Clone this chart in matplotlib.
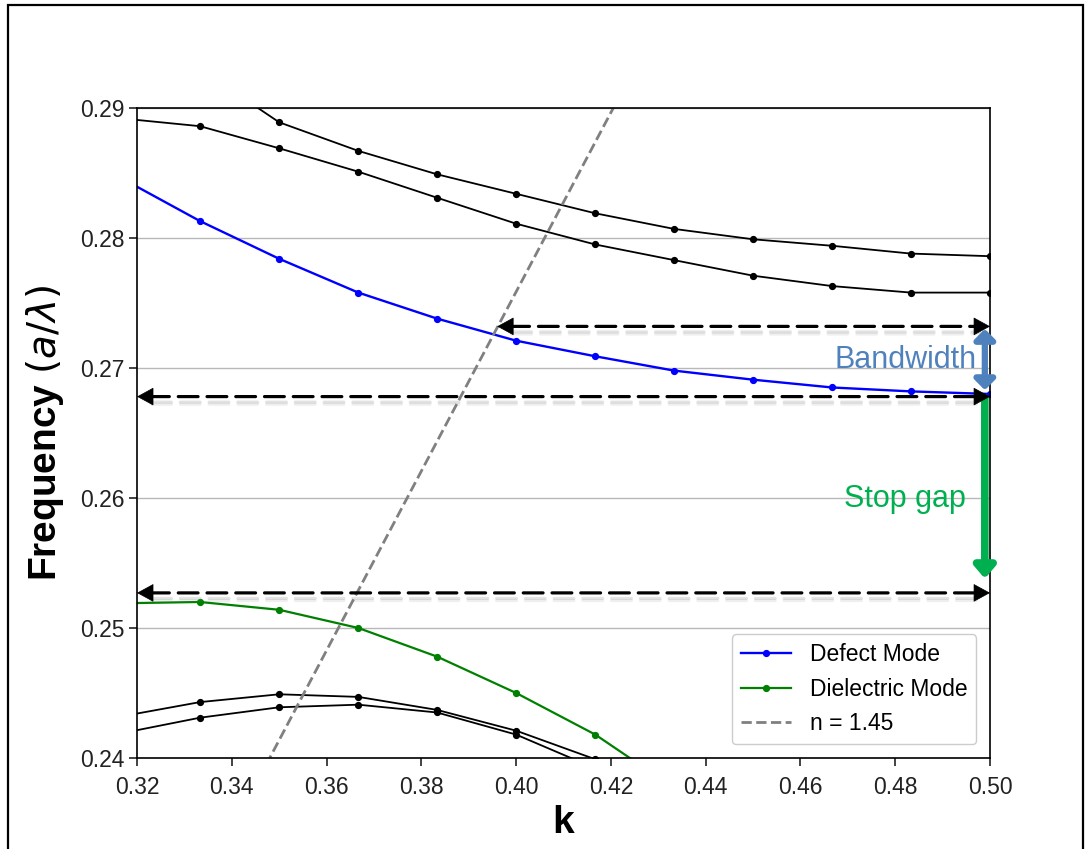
import numpy as np
import matplotlib
matplotlib.use("Agg")
import matplotlib.pyplot as plt
import matplotlib.patheffects as pe
from matplotlib.patches import Rectangle

plt.rcParams['font.family'] = ['Liberation Sans', 'DejaVu Sans']

# wave vector samples (k in units of 2pi/a)
k = [0.3167, 0.3333, 0.3500, 0.3667, 0.3833, 0.4000, 0.4167,
     0.4333, 0.4500, 0.4667, 0.4833, 0.5000]

# bands (a/lambda)
defect = [0.2846, 0.2813, 0.2784, 0.2758, 0.2738, 0.2721, 0.2709,
          0.2698, 0.2691, 0.2685, 0.2682, 0.2680]
band_a = [0.2965, 0.2930, 0.2889, 0.2867, 0.2849, 0.2834, 0.2819,
          0.2807, 0.2799, 0.2794, 0.2788, 0.2786]
band_b = [0.2892, 0.2886, 0.2869, 0.2851, 0.2831, 0.2811, 0.2795,
          0.2783, 0.2771, 0.2763, 0.2758, 0.2758]
dielectric = [0.2519, 0.2520, 0.2514, 0.2500, 0.2478, 0.2450, 0.2418, 0.2377]
band_c = [0.2432, 0.2443, 0.2449, 0.2447, 0.2437, 0.2421, 0.2399, 0.2372]
band_d = [0.2419, 0.2431, 0.2439, 0.2441, 0.2435, 0.2418, 0.2392, 0.2362]

# light line
n_clad = 1.45
k_light = np.array([0.34, 0.43])

# annotation levels
band_top = 0.2732      # top of bandwidth
gap_top = 0.2678       # defect mode at k = 0.5
gap_bottom = 0.2527    # top of dielectric band
band_left_k = 0.396

xticks = [0.32, 0.34, 0.36, 0.38, 0.40, 0.42, 0.44, 0.46, 0.48, 0.50]
yticks = [0.24, 0.25, 0.26, 0.27, 0.28, 0.29]

fig = plt.figure(figsize=(10.9, 8.49), dpi=100)
ax = fig.add_axes([0.1257, 0.1072, 0.7826, 0.7656])

ax.grid(axis='y', color='#b8b8b8', lw=1.0, zorder=0)

mk = dict(marker='o', ms=4.2, lw=1.3)
ax.plot(k, band_a, color='k', **mk)
ax.plot(k, band_b, color='k', **mk)
ax.plot(k[:len(band_c)], band_c, color='k', **mk)
ax.plot(k[:len(band_d)], band_d, color='k', **mk)
ax.plot(k, defect, color='blue', marker='o', ms=4.2, lw=1.7, label='Defect Mode')
ax.plot(k[:len(dielectric)], dielectric, color='green', marker='o', ms=4.2, lw=1.6,
        label='Dielectric Mode')
ax.plot(k_light, k_light / n_clad, '--', color='gray', lw=2, label='n = 1.45')

ax.set_xlim(0.32, 0.50)
ax.set_ylim(0.24, 0.29)
ax.set_xticks(xticks)
ax.set_yticks(yticks)
ax.set_xticklabels(['%.2f' % v for v in xticks])
ax.set_yticklabels(['%.2f' % v for v in yticks])
ax.tick_params(labelsize=16.5, length=6, width=1.2, colors='#222222')
ax.tick_params(axis='x', pad=7)
ax.tick_params(axis='y', pad=3)
for s in ax.spines.values():
    s.set_linewidth(1.2)

ax.set_xlabel('k', fontsize=28, fontweight='bold', labelpad=4)
ax.set_ylabel(r'Frequency $(a/\lambda)$', fontsize=28, fontweight='bold', labelpad=10)

ax.legend(loc='lower right', fontsize=16.5, handlelength=2.2, borderaxespad=0.6,
          framealpha=1, edgecolor='#cccccc')

# dashed horizontal arrows with a soft shadow
shadow = [pe.SimpleLineShadow(offset=(1.5, -4), shadow_color='gray', alpha=0.22),
          pe.SimpleLineShadow(offset=(1.5, -5.5), shadow_color='gray', alpha=0.12),
          pe.Normal()]
for y0, x0 in [(band_top, band_left_k), (gap_top, 0.32), (gap_bottom, 0.32)]:
    ax.annotate('', xy=(0.50, y0), xytext=(x0, y0),
                arrowprops=dict(arrowstyle='-', lw=2.3, color='k',
                                linestyle=(0, (6.2, 2.8)), shrinkA=9, shrinkB=9,
                                path_effects=shadow),
                annotation_clip=False, zorder=6)
    for xa, xb in [(x0 + 0.003, x0), (0.50 - 0.003, 0.50)]:
        ax.annotate('', xy=(xb, y0), xytext=(xa, y0),
                    arrowprops=dict(arrowstyle='-|>,head_length=0.55,head_width=0.3',
                                    lw=0.5, color='k', shrinkA=0, shrinkB=0,
                                    mutation_scale=20),
                    annotation_clip=False, zorder=7)

# bandwidth and stop gap markers
xm = 0.4989
ax.annotate('', xy=(xm, band_top - 0.0002), xytext=(xm, gap_top + 0.0005),
            arrowprops=dict(arrowstyle='<|-|>,head_length=0.3,head_width=0.3',
                            lw=4.5, color='#4F81BD', shrinkA=0, shrinkB=0,
                            mutation_scale=20),
            annotation_clip=False, zorder=5)
ax.annotate('', xy=(xm, gap_bottom + 0.0011), xytext=(xm, gap_top - 0.0001),
            arrowprops=dict(arrowstyle='-|>,head_length=0.35,head_width=0.3',
                            lw=5.5, color='#00B050', shrinkA=0, shrinkB=0,
                            mutation_scale=20),
            annotation_clip=False, zorder=5)
ax.text(0.4972, 0.2700, 'Bandwidth', color='#4F81BD', fontsize=22,
        ha='right', va='baseline', zorder=8)
ax.text(0.4949, 0.2593, 'Stop gap', color='#00B050', fontsize=22,
        ha='right', va='baseline', zorder=8)

# frame around the whole picture
fig.patches.append(Rectangle((0.0073, -0.02), 0.9862, 1.0142, transform=fig.transFigure,
                             fill=False, lw=1.6, ec='k'))

fig.savefig('out.png', dpi=100)
